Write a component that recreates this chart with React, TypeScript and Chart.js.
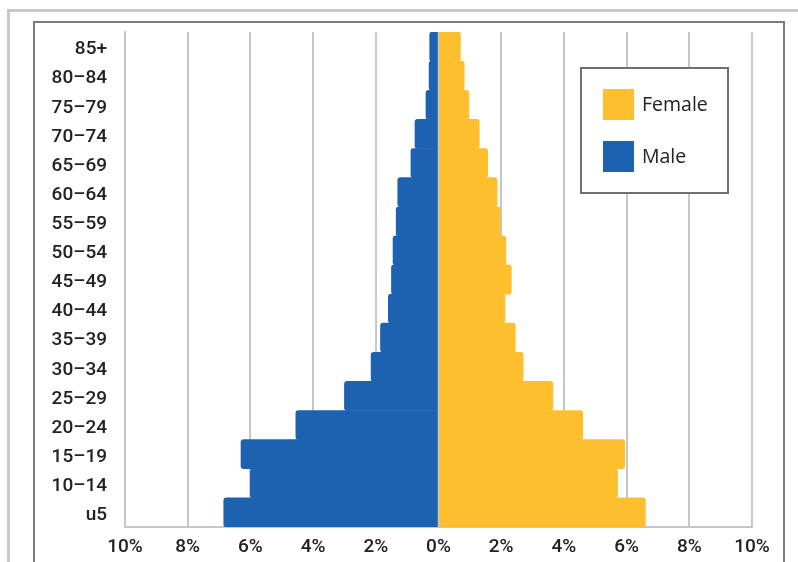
import React, { useEffect, useRef } from "react";
import { Chart, registerables } from "chart.js";

Chart.register(...registerables);

// Age groups, top to bottom
const ageGroups = [
  "85+", "80–84", "75–79", "70–74", "65–69", "60–64", "55–59", "50–54",
  "45–49", "40–44", "35–39", "30–34", "25–29", "20–24", "15–19", "10–14", "u5",
];

// Share of population (%)
const maleShare = [0.28, 0.3, 0.4, 0.75, 0.88, 1.3, 1.35, 1.45, 1.5, 1.6, 1.85, 2.15, 3.0, 4.55, 6.3, 6.0, 6.85];
const femaleShare = [0.7, 0.82, 0.97, 1.3, 1.57, 1.87, 1.97, 2.15, 2.32, 2.12, 2.45, 2.7, 3.65, 4.6, 5.94, 5.71, 6.6];

const xTickMin = -10;
const xTickMax = 10;
const xTickStep = 2;

const legendLabels = ["Female", "Male"];

const BLUE = "#1c62b0";
const YELLOW = "#fdbf2e";
const GRID = "#c6c6c6";

const legendBoxPlugin = {
  id: "legendBox",
  afterDraw(chart: any) {
    const { ctx, chartArea } = chart;
    const x = chartArea.right - 171;
    const y = chartArea.top + 36;
    const w = 147;
    const h = 125;
    ctx.save();
    ctx.fillStyle = "#ffffff";
    ctx.fillRect(x, y, w, h);
    ctx.strokeStyle = "#707070";
    ctx.lineWidth = 2;
    ctx.strokeRect(x, y, w, h);
    const colors = [YELLOW, BLUE];
    legendLabels.forEach((label, i) => {
      const sy = y + 21 + i * 52;
      ctx.fillStyle = colors[i];
      ctx.fillRect(x + 22, sy, 31, 31);
      ctx.fillStyle = "#222222";
      ctx.font = "19.5px 'Open Sans', Lato, sans-serif";
      ctx.textBaseline = "middle";
      ctx.textAlign = "left";
      ctx.fillText(label, x + 61, sy + 16);
    });
    ctx.restore();
  },
};

export default function App() {
  const canvasRef = useRef<HTMLCanvasElement | null>(null);

  useEffect(() => {
    if (!canvasRef.current) return;
    const chart = new Chart(canvasRef.current, {
      type: "bar",
      data: {
        labels: ageGroups,
        datasets: [
          {
            label: "Male",
            data: maleShare.map((v) => -v),
            backgroundColor: BLUE,
            borderRadius: 3,
            borderSkipped: "start",
            barPercentage: 1,
            categoryPercentage: 1,
          },
          {
            label: "Female",
            data: femaleShare,
            backgroundColor: YELLOW,
            borderRadius: 3,
            borderSkipped: "start",
            barPercentage: 1,
            categoryPercentage: 1,
          },
        ],
      },
      options: {
        indexAxis: "y",
        animation: false,
        responsive: false,
        devicePixelRatio: 1,
        layout: { padding: { top: 9, right: 31, left: 0, bottom: 0 } },
        plugins: {
          legend: { display: false },
          tooltip: { enabled: false },
        },
        scales: {
          x: {
            stacked: true,
            min: xTickMin,
            max: xTickMax,
            ticks: {
              stepSize: xTickStep,
              color: "#222222",
              font: { family: "Roboto", size: 19, weight: "500" },
              padding: 9,
              callback: (v: any) => Math.abs(Number(v)) + "%",
            },
            grid: { color: GRID, lineWidth: 2, drawTicks: false },
            border: { display: true, color: GRID, width: 2 },
            afterFit: (scale: any) => {
              scale.height = 35;
            },
          },
          y: {
            stacked: true,
            ticks: {
              color: "#222222",
              font: { family: "Roboto", size: 19, weight: "500" },
              padding: 18,
              labelOffset: 3,
              autoSkip: false,
            },
            grid: { display: false, drawTicks: false },
            border: { display: true, color: GRID, width: 2 },
            afterFit: (scale: any) => {
              scale.width = 90;
              scale.paddingTop = 0;
              scale.paddingBottom = 0;
            },
          },
        },
      },
      plugins: [legendBoxPlugin],
    });
    return () => chart.destroy();
  }, []);

  return (
    <div
      style={{
        position: "fixed",
        left: 0,
        top: 0,
        width: 798,
        height: 562,
        overflow: "hidden",
        background: "#ffffff",
      }}
    >
      <div
        style={{
          position: "absolute",
          left: 7,
          top: 9,
          width: 900,
          height: 700,
          borderTop: "3px solid #c8c8c8",
          borderLeft: "3px solid #c8c8c8",
        }}
      />
      <div
        style={{
          position: "absolute",
          left: 33,
          top: 21,
          width: 752,
          height: 700,
          boxSizing: "border-box",
          border: "2px solid #7c7c7c",
          background: "#ffffff",
        }}
      >
        <canvas
          ref={canvasRef}
          width={748}
          height={539}
          style={{ display: "block", width: 748, height: 539 }}
        />
      </div>
    </div>
  );
}
